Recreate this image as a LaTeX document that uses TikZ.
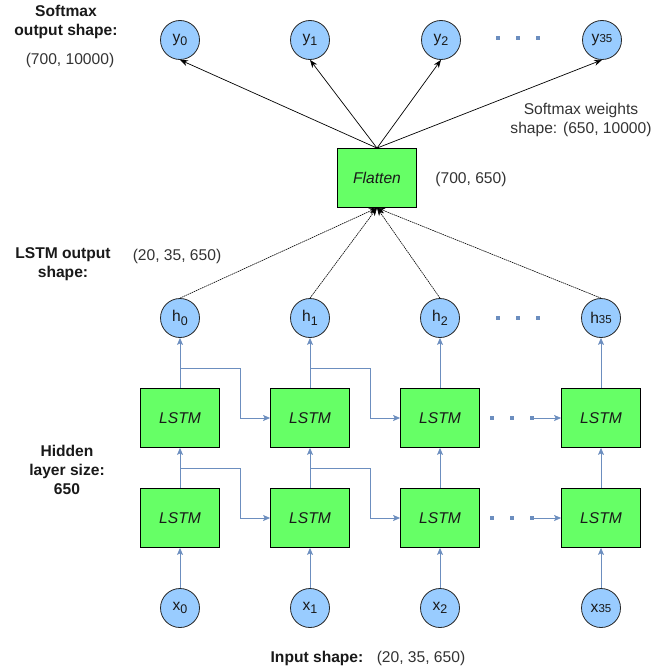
\documentclass[tikz,border=0pt]{standalone}
\usepackage{fontspec}
\setmainfont{Liberation Sans}
\usetikzlibrary{arrows.meta}
\definecolor{cfill}{HTML}{99CCFF}
\definecolor{bfill}{HTML}{66FF66}
\definecolor{blu}{HTML}{6C8EBF}
\definecolor{txt}{HTML}{333333}
\begin{document}
\begin{tikzpicture}[x=1pt,y=-1pt,
  every node/.style={font=\fontsize{15.6}{19.5}\selectfont, text=black!90},
  circ/.style={circle,draw=black!85,fill=cfill,minimum size=39pt,inner sep=0pt,line width=0.8pt},
  lstm/.style={draw=black,fill=bfill,minimum width=79pt,minimum height=59pt,inner sep=0pt,line width=0.8pt,font=\fontsize{15.6}{19.5}\selectfont\itshape},
  bar/.style={blu,line width=0.9pt,-{Stealth[length=7pt,width=6pt,inset=1.5pt]}},
  soft/.style={black,line width=0.7pt,-{Stealth[length=8pt,width=6pt]}},
  fl/.style={black,line width=0.6pt,dash pattern=on 1.5pt off 0.7pt,-{Stealth[length=8pt,width=6pt]}},
  dot/.style={fill=blu,draw=none,minimum size=4pt,inner sep=0pt,rectangle},
  bold/.style={align=center,font=\fontsize{15.6}{19}\selectfont\bfseries},
  val/.style={text=txt,align=center}
]
\useasboundingbox (0,0) rectangle (657,669);
\newcommand{\tfs}[1]{{\fontsize{11.5}{11.5}\selectfont #1}}
\newcommand{\sbs}[1]{\raisebox{-3.5pt}{\fontsize{12.5}{12.5}\selectfont #1}}

% output circles
\node[circ] (y0) at (180,40) {y\sbs{0}};
\node[circ] (y1) at (310,40) {y\sbs{1}};
\node[circ] (y2) at (441,40) {y\sbs{2}};
\node[circ] (y35) at (602,40) {y\tfs{35}};
\foreach \i/\x in {a/498,b/518,c/538} \node[dot] (yd\i) at (\x,38) {};

% flatten
\node[lstm] (fl) at (377,178) {Flatten};

% h circles
\node[circ] (h0) at (180,318) {h\sbs{0}};
\node[circ] (h1) at (310,318) {h\sbs{1}};
\node[circ] (h2) at (440,318) {h\sbs{2}};
\node[circ] (h35) at (601,318) {h\tfs{35}};
\foreach \i/\x in {a/498,b/518,c/538} \node[dot] (hd\i) at (\x,318) {};

% LSTM boxes
\node[lstm] (T0) at (180,418) {LSTM};
\node[lstm] (T1) at (310,418) {LSTM};
\node[lstm] (T2) at (440,418) {LSTM};
\node[lstm] (T3) at (601,418) {LSTM};
\node[lstm] (B0) at (180,518) {LSTM};
\node[lstm] (B1) at (310,518) {LSTM};
\node[lstm] (B2) at (440,518) {LSTM};
\node[lstm] (B3) at (601,518) {LSTM};

% x circles
\node[circ] (x0) at (180,608) {x\sbs{0}};
\node[circ] (x1) at (310,608) {x\sbs{1}};
\node[circ] (x2) at (440,608) {x\sbs{2}};
\node[circ] (x35) at (601,608) {x\tfs{35}};

% softmax arrows
\foreach \n in {y0,y1,y2,y35} \draw[soft] (fl.north) -- (\n.south);
% h to flatten
\foreach \n in {h0,h1,h2,h35} \draw[fl] (\n.north) -- (fl.south);

% vertical blue
\draw[bar] (x0.north) -- (B0.south);
\draw[bar] (x1.north) -- (B1.south);
\draw[bar] (x2.north) -- (B2.south);
\draw[bar] (x35.north) -- (B3.south);
\foreach \c in {0,1,2,3} \draw[bar] (B\c.north) -- (T\c.south);
\draw[bar] (T0.north) -- (h0.south);
\draw[bar] (T1.north) -- (h1.south);
\draw[bar] (T2.north) -- (h2.south);
\draw[bar] (T3.north) -- (h35.south);

% recurrent connections
\coordinate (t0) at (180,368);
\coordinate (t1) at (310,368);
\coordinate (b0) at (180,468);
\coordinate (b1) at (310,468);
\draw[bar] (t0) -- ++(60,0) |- (T1.west);
\draw[bar] (t1) -- ++(60,0) |- (T2.west);
\draw[bar] (b0) -- ++(60,0) |- (B1.west);
\draw[bar] (b1) -- ++(60,0) |- (B2.west);

% dotted continuation
\node[dot] (td1) at (492,418) {};
\node[dot] (td2) at (512,418) {};
\node[dot] (td3) at (532,418) {};
\draw[bar] (td3.center) -- (T3.west);
\node[dot] (bd1) at (492,518) {};
\node[dot] (bd2) at (512,518) {};
\node[dot] (bd3) at (532,518) {};
\draw[bar] (bd3.center) -- (B3.west);

% labels
\node[bold] (l1) at (66,22) {Softmax\\output shape:};
\node[val] (v1) at (70,60) {(700, 10000)};
\node[val,inner sep=1pt] (v2) at (581,120) {Softmax weights\\shape: (650, 10000)};
\node[val] (v3) at (471,179) {(700, 650)};
\node[bold] (l2) at (63,264) {LSTM output\\shape:};
\node[val] (v4) at (177,256) {(20, 35, 650)};
\node[bold] (l3) at (67,470) {Hidden\\layer size:\\650};
\node[bold] (l4) at (317,658) {Input shape:};
\node[val] (v5) at (421,658) {(20, 35, 650)};
\end{tikzpicture}
\end{document}
